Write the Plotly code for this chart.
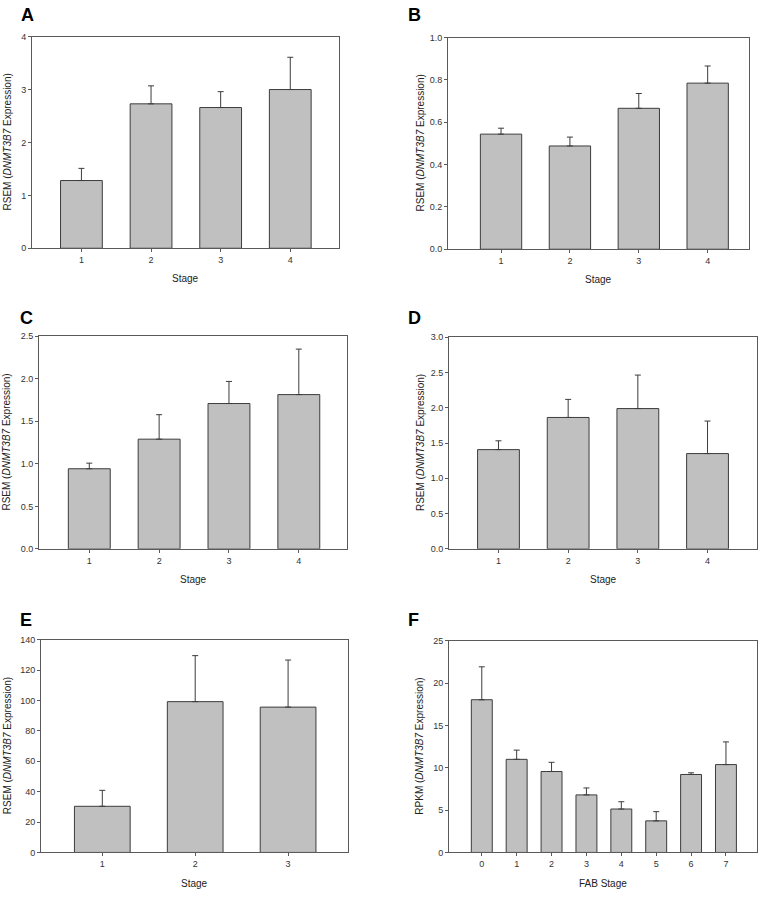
import plotly.graph_objects as go

W, H = 760, 897

# ---- data ----
stage_a = [1, 2, 3, 4]
mean_a = [1.28, 2.73, 2.66, 3.00]
err_a = [0.23, 0.34, 0.30, 0.61]

stage_b = [1, 2, 3, 4]
mean_b = [0.544, 0.488, 0.666, 0.785]
err_b = [0.028, 0.042, 0.070, 0.081]

stage_c = [1, 2, 3, 4]
mean_c = [0.942, 1.29, 1.709, 1.814]
err_c = [0.066, 0.288, 0.26, 0.535]

stage_d = [1, 2, 3, 4]
mean_d = [1.407, 1.863, 1.989, 1.351]
err_d = [0.125, 0.256, 0.475, 0.461]

stage_e = [1, 2, 3]
mean_e = [30.4, 99.3, 95.7]
err_e = [10.5, 30.3, 31.0]

stage_f = [0, 1, 2, 3, 4, 5, 6, 7]
mean_f = [18.04, 11.0, 9.56, 6.80, 5.13, 3.73, 9.21, 10.38]
err_f = [3.89, 1.09, 1.09, 0.82, 0.86, 1.09, 0.20, 2.68]

RSEM_TITLE = "RSEM (<i>DNMT3B7</i> Expression)"
RPKM_TITLE = "RPKM (<i>DNMT3B7</i> Expression)"

panels = [
    dict(letter="A", x=stage_a, y=mean_a, e=err_a, box=(32, 32, 339, 246), xr=[0.29, 4.70], yr=[0, 4], dt=1, fmt="d", yt=RSEM_TITLE, xt="Stage", lx=19, ly=10, tx=7),
    dict(letter="B", x=stage_b, y=mean_b, e=err_b, box=(448, 33, 749, 247), xr=[0.23, 4.60], yr=[0, 1.0], dt=0.2, fmt=".1f", yt=RSEM_TITLE, xt="Stage", lx=406, ly=10, tx=420),
    dict(letter="C", x=stage_c, y=mean_c, e=err_c, box=(39, 335, 347, 550), xr=[0.28, 4.69], yr=[0, 2.5], dt=0.5, fmt=".1f", yt=RSEM_TITLE, xt="Stage", lx=18, ly=317, tx=7),
    dict(letter="D", x=stage_d, y=mean_d, e=err_d, box=(449, 336, 757, 550), xr=[0.29, 4.71], yr=[0, 3.0], dt=0.5, fmt=".1f", yt=RSEM_TITLE, xt="Stage", lx=406, ly=317, tx=420),
    dict(letter="E", x=stage_e, y=mean_e, e=err_e, box=(41, 642, 348, 857), xr=[0.34, 3.645], yr=[0, 140], dt=20, fmt="d", yt=RSEM_TITLE, xt="Stage", lx=18, ly=622, tx=7),
    dict(letter="F", x=stage_f, y=mean_f, e=err_f, box=(449, 643, 757, 857), xr=[-0.94, 7.89], yr=[0, 25], dt=5, fmt="d", yt=RPKM_TITLE, xt="FAB Stage", lx=406, ly=622, tx=420),
]

fig = go.Figure()
annotations = []
layout_axes = {}

FRAME = "#5a5a5a"
FONT_FAMILY = "Liberation Sans, Arial, sans-serif"
TICKFONT = dict(family=FONT_FAMILY, size=9, color="#333333")

for i, p in enumerate(panels):
    n = "" if i == 0 else str(i + 1)
    l, t, r, b = p["box"]
    fig.add_trace(go.Bar(
        x=p["x"], y=p["y"], width=0.6,
        marker=dict(color="#c0c0c0", line=dict(color="#3c3c3c", width=1)),
        error_y=dict(type="data", array=p["e"], arrayminus=[0] * len(p["e"]),
                     symmetric=False, color="#3c3c3c", thickness=1, width=3),
        xaxis="x" + n, yaxis="y" + n, showlegend=False,
    ))
    layout_axes["xaxis" + n] = dict(
        domain=[l / W, r / W], anchor="y" + n, range=p["xr"],
        tickvals=p["x"], ticktext=[str(v) for v in p["x"]],
        showline=True, linecolor=FRAME, linewidth=1, mirror=True,
        ticks="outside", ticklen=3, tickcolor=FRAME, tickfont=TICKFONT,
        showgrid=False, zeroline=False, fixedrange=True,
    )
    layout_axes["yaxis" + n] = dict(
        domain=[(H - b) / H, (H - t) / H], anchor="x" + n, range=p["yr"],
        dtick=p["dt"], tick0=0, tickformat=p["fmt"],
        showline=True, linecolor=FRAME, linewidth=1, mirror=True,
        ticks="outside", ticklen=3, tickcolor=FRAME, tickfont=TICKFONT,
        showgrid=False, zeroline=False, fixedrange=True,
    )
    annotations.append(dict(
        text="<b>%s</b>" % p["letter"], x=p["lx"] / W, y=1 - p["ly"] / H,
        xref="paper", yref="paper", xanchor="left", yanchor="middle",
        showarrow=False, font=dict(family=FONT_FAMILY, size=18, color="#000000"),
    ))
    annotations.append(dict(
        text=p["yt"], x=p["tx"] / W, y=1 - ((t + b) / 2) / H,
        xref="paper", yref="paper", xanchor="center", yanchor="middle", textangle=-90,
        showarrow=False, font=dict(family=FONT_FAMILY, size=10, color="#222222"),
    ))
    annotations.append(dict(
        text=p["xt"], x=((l + r) / 2) / W, y=1 - (b + 31) / H,
        xref="paper", yref="paper", xanchor="center", yanchor="middle",
        showarrow=False, font=dict(family=FONT_FAMILY, size=10, color="#222222"),
    ))

fig.update_layout(
    width=W, height=H, margin=dict(l=0, r=0, t=0, b=0),
    paper_bgcolor="white", plot_bgcolor="white",
    annotations=annotations, bargap=0, hovermode=False, **layout_axes,
)

fig.write_html(
    "out.html",
    config={"displayModeBar": False, "staticPlot": True},
    post_script="document.body.style.margin='0';document.body.style.overflow='hidden';",
)
